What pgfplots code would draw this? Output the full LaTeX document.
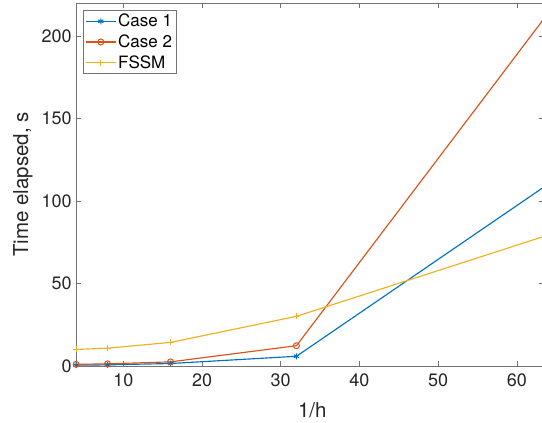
\documentclass[border=0pt]{standalone}
\usepackage{fontspec}
\setmainfont{TeX Gyre Heros}
\usepackage{pgfplots}
\pgfplotsset{compat=1.18}
\definecolor{mblue}{rgb}{0,0.447,0.741}
\definecolor{morange}{rgb}{0.85,0.325,0.098}
\definecolor{myellow}{rgb}{0.929,0.694,0.125}
\definecolor{axgray}{rgb}{0.45,0.45,0.45}
\begin{document}
\begin{tikzpicture}
\begin{axis}[
  name=ax,
  scale only axis,
  width=468.3pt, height=363pt,
  xmin=4, xmax=63.5, ymin=0, ymax=220,
  xtick={10,20,30,40,50,60},
  ytick={0,50,100,150,200},
  tick align=inside,
  major tick length=5pt,
  axis line style={axgray, line width=0.6pt},
  every tick/.style={axgray, line width=0.6pt},
  /pgf/number format/assume math mode=true,
  tick label style={font=\fontsize{18}{20}\selectfont, text=black!85},
  xticklabel style={yshift=-4pt},
  yticklabel style={xshift=-1pt},
  xlabel={1/h},
  ylabel={Time elapsed, s},
  label style={font=\fontsize{20.5}{23}\selectfont, text=black!85},
  xlabel style={at={(axis description cs:0.5,0)}, anchor=base, yshift=-52pt, xshift=2pt},
  ylabel style={at={(axis description cs:0,0.5)}, anchor=base, yshift=48pt},
  legend style={at={(0.015,0.981)}, anchor=north west, draw=axgray, line width=0.6pt,
    font=\fontsize{17}{19}\selectfont, inner sep=2pt, row sep=2.5pt,
    cells={anchor=west}},
  legend image code/.code={
    \draw[mark repeat=2,mark phase=2] plot coordinates {(0cm,0cm) (0.52cm,0cm) (1.04cm,0cm)};
  },
  every axis plot/.append style={line width=1.15pt, mark size=3pt},
]
\addplot[color=mblue, mark=asterisk, mark options={line width=1pt}] coordinates {
  (4,0.5) (8,0.7) (16,1.5) (32,5.9) (64,110.3)
};
\addlegendentry{Case 1}
\addplot[color=morange, mark=o, mark options={line width=1pt}] coordinates {
  (4,1.0) (8,1.3) (16,2.5) (32,12.3) (64,214)
};
\addlegendentry{Case 2}
\addplot[color=myellow, mark=+, mark options={line width=1pt}] coordinates {
  (4,10.0) (8,10.8) (16,14.3) (32,30.1) (64,79.4)
};
\addlegendentry{FSSM}
\end{axis}
\pgfresetboundingbox
\path ([xshift=-76.1pt, yshift=-57pt]ax.south west) rectangle ([xshift=-2.4pt, yshift=3pt]ax.north east);
\end{tikzpicture}
\end{document}
